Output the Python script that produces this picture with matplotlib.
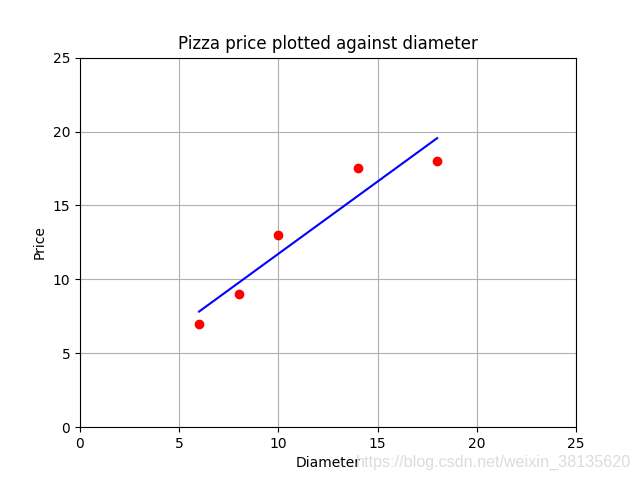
import matplotlib
matplotlib.use('Agg')
import matplotlib.pyplot as plt

# pizza diameters and prices
diameters = [6, 8, 10, 14, 18]
prices = [7, 9, 13, 17.5, 18]

# fitted line at both ends
line_x = [6, 18]
line_y = [7.82, 19.55]

axis_ticks = [0, 5, 10, 15, 20, 25]

fig = plt.figure(figsize=(6.4, 4.8), dpi=100)
plt.plot(diameters, prices, 'ro')
plt.plot(line_x, line_y, 'b-')
plt.title('Pizza price plotted against diameter')
plt.xlabel('Diameter')
plt.ylabel('Price')
plt.axis([0, 25, 0, 25])
plt.xticks(axis_ticks)
plt.yticks(axis_ticks)
plt.grid(True)

# watermark in the bottom right corner
fig.text(0.986, 0.037, 'https://blog.csdn.net/weixin_38135620',
         ha='right', va='center', color='#dcdcdc', fontsize=11.6,
         family='Liberation Sans')

plt.savefig('out.png')
